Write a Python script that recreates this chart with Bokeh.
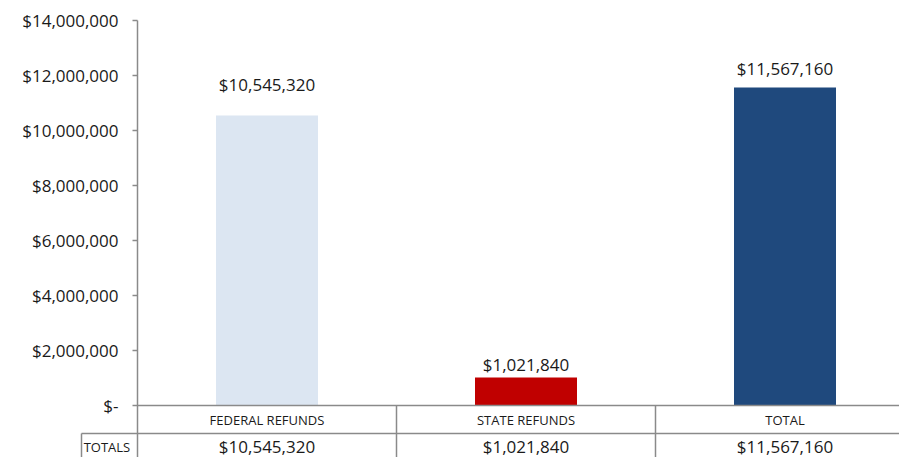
from bokeh.plotting import figure
from bokeh.models import Range1d, FixedTicker
from bokeh.core.properties import value
from bokeh.embed import file_html
from bokeh.resources import INLINE

# ---- data ----
categories = ["FEDERAL REFUNDS", "STATE REFUNDS", "TOTAL"]
refunds = [10545320, 1021840, 11567160]
value_labels = ["$10,545,320", "$1,021,840", "$11,567,160"]
bar_colors = ["#DCE6F2", "#C00000", "#1F497D"]
tick_values = [0, 2000000, 4000000, 6000000, 8000000, 10000000, 12000000, 14000000]
tick_labels = ["$-", "$2,000,000", "$4,000,000", "$6,000,000", "$8,000,000",
               "$10,000,000", "$12,000,000", "$14,000,000"]
row_header = "TOTALS"

# ---- layout (pixels) ----
W, H = 899, 457
TOP = 20             # canvas y of top tick
ZERO = 405           # canvas y of value 0
CAT0 = 137           # canvas x where first category starts
CAT_W = 259          # category width in px
Y_MAX = 14000000
PX_PER_VAL = (ZERO - TOP) / Y_MAX

def y_of(py):
    return (ZERO - py) / PX_PER_VAL

def x_of(px):
    return (px - CAT0) / CAT_W

x_start, x_end = x_of(0), x_of(W)
y_start, y_end = y_of(H), y_of(0)

FONT = "Open Sans"
TXT = "#1a1a1a"
LINE = "#8a8a8a"

p = figure(width=W, height=H, output_backend="svg", toolbar_location=None,
           x_range=Range1d(x_start, x_end), y_range=Range1d(y_start, y_end),
           x_axis_location=None, min_border=0)
p.outline_line_color = None
p.xgrid.visible = False
p.ygrid.visible = False
p.background_fill_color = "white"
p.border_fill_color = "white"

ax = p.yaxis[0]
ax.fixed_location = 0
ax.ticker = FixedTicker(ticks=tick_values)
ax.major_label_overrides = {v: l for v, l in zip(tick_values, tick_labels)}
ax.minor_tick_line_color = None
ax.major_tick_in = 0
ax.major_tick_out = 5
ax.major_tick_line_color = LINE
ax.axis_line_color = None
ax.major_tick_line_width = 1.5
ax.major_label_standoff = 14
ax.major_label_text_font = FONT
ax.major_label_text_font_size = "17px"
ax.major_label_text_color = TXT

xs = [i + 0.5 for i in range(len(categories))]

# bars
p.vbar(x=xs, top=refunds, bottom=0, width=102 / CAT_W, fill_color=bar_colors, line_color=None)

# data labels above bars
label_offsets = [-31, -13, -19]
p.text(x=xs, y=refunds, text=value_labels, y_offset=label_offsets,
       text_align="center", text_baseline="middle",
       text_font=value(FONT), text_font_size="17px", text_color=TXT)

# axis line + data table grid
row1_bottom = y_of(433)
cell_left = x_of(81)
x0s = [0, cell_left, 0, 1, 2, cell_left]
x1s = [x_end, x_end, 0, 1, 2, cell_left]
y0s = [0, row1_bottom, Y_MAX, 0, 0, row1_bottom]
y1s = [0, row1_bottom, y_start, y_start, y_start, y_start]
p.segment(x0=x0s, y0=y0s, x1=x1s, y1=y1s, line_color=LINE, line_width=1.5)

# table texts
p.text(x=xs, y=[y_of(419)] * 3, text=categories, text_align="center", text_baseline="middle",
       text_font=value(FONT), text_font_size="13px", text_color=TXT)
p.text(x=xs, y=[y_of(446)] * 3, text=value_labels, text_align="center", text_baseline="middle",
       text_font=value(FONT), text_font_size="17px", text_color=TXT)
p.text(x=[(cell_left - 0.02) / 2], y=[y_of(446)], text=[row_header], text_align="center",
       text_baseline="middle", text_font=value(FONT), text_font_size="13px", text_color=TXT)

open("out.html", "w").write(file_html(p, INLINE))
